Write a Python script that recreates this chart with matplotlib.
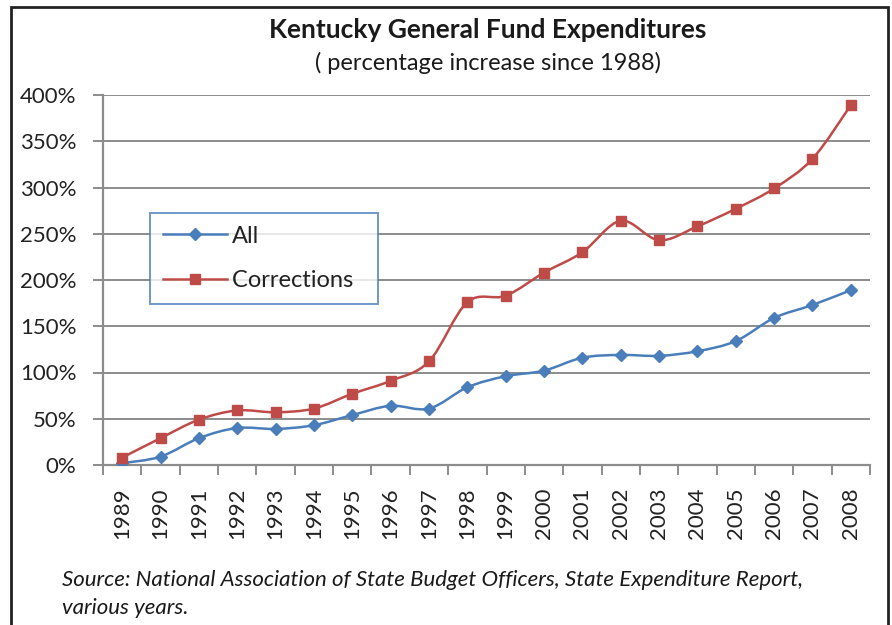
import numpy as np
import matplotlib.pyplot as plt
from matplotlib.path import Path
from matplotlib.patches import PathPatch, Rectangle
from matplotlib.lines import Line2D

years = ['1989', '1990', '1991', '1992', '1993', '1994', '1995', '1996', '1997', '1998',
         '1999', '2000', '2001', '2002', '2003', '2004', '2005', '2006', '2007', '2008']
all_funds = [2, 9, 29, 40, 39, 43, 54, 64, 61, 84, 96, 102, 116, 119, 118, 123, 134, 159, 173, 189]
corrections = [8, 29, 49, 59, 57, 61, 77, 91, 112, 176, 183, 208, 230, 264, 243, 258, 277, 299, 331, 389]

blue = '#4A7EBB'
red = '#BE4B48'
grid_grey = '#8C8C8C'

plt.rcParams['font.family'] = ['Lato', 'DejaVu Sans']


def smooth_path(x, y):
    # Excel-like smoothed line: cubic bezier with catmull-rom control points
    pts = np.column_stack([x, y]).astype(float)
    n = len(pts)
    verts = [pts[0]]
    codes = [Path.MOVETO]
    for i in range(n - 1):
        p0 = pts[i - 1] if i > 0 else pts[i]
        p1 = pts[i]
        p2 = pts[i + 1]
        p3 = pts[i + 2] if i + 2 < n else pts[i + 1]
        c1 = p1 + (p2 - p0) / 6
        c2 = p2 - (p3 - p1) / 6
        verts += [c1, c2, p2]
        codes += [Path.CURVE4] * 3
    return Path(verts, codes)


fig = plt.figure(figsize=(8.92, 6.25), dpi=100)
ax = fig.add_axes([103 / 892, 160 / 625, 767 / 892, 370 / 625])

x = np.arange(len(years))
for vals, col, mk, ms in [(all_funds, blue, 'D', 6.5), (corrections, red, 's', 7.5)]:
    ax.add_patch(PathPatch(smooth_path(x, vals), facecolor='none', edgecolor=col,
                           lw=1.8, zorder=3))
    ax.plot(x, vals, linestyle='none', marker=mk, markersize=ms, color=col, zorder=4)

ax.set_xlim(-0.5, len(years) - 0.5)
ax.set_ylim(0, 400)
ax.set_yticks(np.arange(0, 401, 50))
ax.set_yticklabels([f'{v}%' for v in range(0, 401, 50)], fontsize=16, color='#222222')
ax.grid(axis='y', color=grid_grey, lw=1.4)
ax.set_axisbelow(True)

ax.set_xticks(x)
ax.set_xticklabels(years, rotation=90, fontsize=16, color='#222222')
ax.set_xticks(np.arange(-0.5, len(years)), minor=True)
ax.tick_params(axis='x', which='major', length=0, pad=16)
ax.tick_params(axis='x', which='minor', length=7, color=grid_grey, width=1.4)
ax.tick_params(axis='y', length=7, color=grid_grey, width=1.4, pad=12)

for s in ['top', 'right']:
    ax.spines[s].set_visible(False)
for s in ['left', 'bottom']:
    ax.spines[s].set_color(grid_grey)
    ax.spines[s].set_linewidth(1.6)

handles = [Line2D([], [], color=blue, marker='D', markersize=6.5, lw=1.8),
           Line2D([], [], color=red, marker='s', markersize=7.5, lw=1.8)]
leg = ax.legend(handles, ['All', 'Corrections  '], loc='upper left',
                bbox_to_anchor=(47 / 767, 252 / 370), fontsize=17, frameon=True,
                fancybox=False, handlelength=2.7, borderpad=0.54, labelspacing=1.0,
                handletextpad=0.25, borderaxespad=0)
leg.get_frame().set_edgecolor(blue)
leg.get_frame().set_linewidth(1.4)
for t in leg.get_texts():
    t.set_color('#222222')

fig.text(488 / 892, 1 - 30 / 625, 'Kentucky General Fund Expenditures', ha='center', va='center',
         fontsize=19, fontweight='bold', color='#1a1a1a')
fig.text(488 / 892, 1 - 63 / 625, '( percentage increase since 1988)', ha='center', va='center',
         fontsize=17, color='#1a1a1a')
fig.text(62 / 892, 1 - 580 / 625, 'Source: National Association of State Budget Officers, State Expenditure Report,',
         ha='left', va='center', fontsize=16, style='italic', color='#1a1a1a')
fig.text(62 / 892, 1 - 608 / 625, 'various years.', ha='left', va='center', fontsize=16,
         style='italic', color='#1a1a1a')

fig.patches.append(Rectangle((11 / 892, -0.05), 877 / 892, 1.05 - 7 / 625, transform=fig.transFigure,
                             fill=False, edgecolor='#222222', lw=2))

fig.savefig('out.png', dpi=100)
